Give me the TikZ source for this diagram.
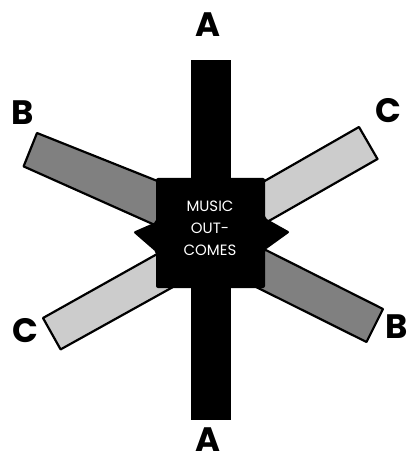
\documentclass[tikz,border=0pt]{standalone}
\usepackage{fontspec}
\setmainfont{Poppins}
\newfontfamily\lbl{Poppins}
\begin{document}
\begin{tikzpicture}[x=1bp,y=-1bp,
  armB/.style={fill=black!50,draw=black,line width=2.2bp,line join=round},
  armC/.style={fill=black!20,draw=black,line width=2.2bp,line join=round},
  core/.style={fill=black,draw=none},
  letter/.style={font=\lbl\bfseries\fontsize{34}{34}\selectfont,inner sep=0pt,anchor=base},
  centertext/.style={text=white,font=\fontsize{15}{22}\selectfont,align=center,inner sep=0pt}]
\useasboundingbox (0,0) rectangle (408,458);
% arms
\draw[armB] (37,133) -- (200,198) -- (184,238) -- (23.6,166.4) -- cycle;
\draw[armB] (383,309) -- (230,232) -- (214,266) -- (366.5,342) -- cycle;
\draw[armC] (359,127) -- (200,218) -- (218,250) -- (377.5,159) -- cycle;
\draw[armC] (43,318) -- (200,230) -- (218,262) -- (60.6,349.4) -- cycle;
% vertical bar and core
\fill[core] (191,60) rectangle (231,420);
\fill[core,rounded corners=2bp] (156,178) -- (265,178) -- (265,218) -- (290,232) -- (265,250)
  -- (265,288) -- (156,288) -- (156,252) -- (133,232) -- (156,222) -- cycle;
\node[centertext] (mo) at (210,228) {MUSIC\\OUT-\\COMES};
% labels
\node[letter] (a1) at (208,37) {A};
\node[letter] (a2) at (208,451) {A};
\node[letter] (b1) at (23,125) {B};
\node[letter] (b2) at (397,338) {B};
\node[letter] (c1) at (388,123) {C};
\node[letter] (c2) at (25,342) {C};
\end{tikzpicture}
\end{document}
